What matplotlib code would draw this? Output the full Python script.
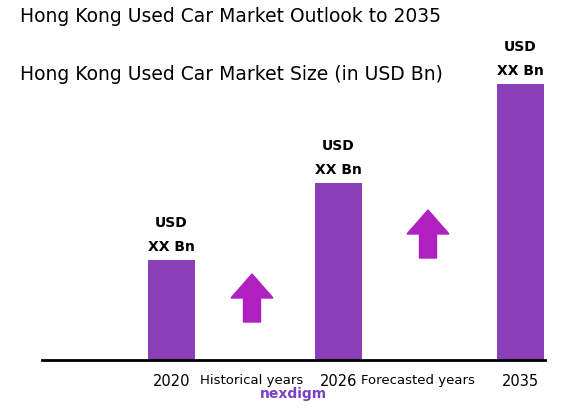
import matplotlib.pyplot as plt
from matplotlib.patches import FancyArrow

# Data
years = ["2020", "2026", "2035"]
values = [1.0, 1.77, 2.76]          # relative bar heights (values hidden as XX)
bar_labels = ["USD\nXX Bn"] * 3
bar_pos = [129.5, 296.5, 478.5]
period_labels = ["Historical years", "Forecasted years"]
period_pos = [210, 376]
arrow_pos = [210, 386]
arrow_base = [0.38, 1.02]

BAR_COLOR = "#8A3FB8"
ARROW_COLOR = "#B01FC0"

fig = plt.figure(figsize=(5.79, 4.09), dpi=100)
ax = fig.add_axes([42 / 579, 49 / 409, 503 / 579, 340 / 409])
ax.set_xlim(0, 503)
ax.set_ylim(0, 3.4)

ax.bar(bar_pos, values, width=47, color=BAR_COLOR)
for x, v, lab in zip(bar_pos, values, bar_labels):
    ax.text(x, v + 0.06, lab, ha="center", va="bottom", fontsize=10,
            fontweight="bold", linespacing=1.9)

for x, b in zip(arrow_pos, arrow_base):
    ax.add_patch(FancyArrow(x, b, 0, 0.48, width=17, head_width=42,
                            head_length=0.24, length_includes_head=True,
                            color=ARROW_COLOR, transform=ax.transData))

for s in ["top", "right", "left"]:
    ax.spines[s].set_visible(False)
ax.spines["bottom"].set_linewidth(2)
ax.set_yticks([])
ax.set_xticks(bar_pos + period_pos)
ax.set_xticklabels(years + period_labels, fontsize=9.5)
ax.tick_params(axis="x", length=0, pad=10)
for t in ax.get_xticklabels()[:3]:
    t.set_fontsize(10.5)

fig.text(20 / 579, 1 - 17 / 409, "Hong Kong Used Car Market Outlook to 2035",
         fontsize=13.5, va="center")
fig.text(20 / 579, 1 - 75 / 409, "Hong Kong Used Car Market Size (in USD Bn)",
         fontsize=13.5, va="center")
fig.text(293 / 579, 1 - 394 / 409, "nexdigm", color="#7B3FC4",
         fontsize=10, fontweight="bold", va="center", ha="center")

fig.savefig("out.png", dpi=100)
